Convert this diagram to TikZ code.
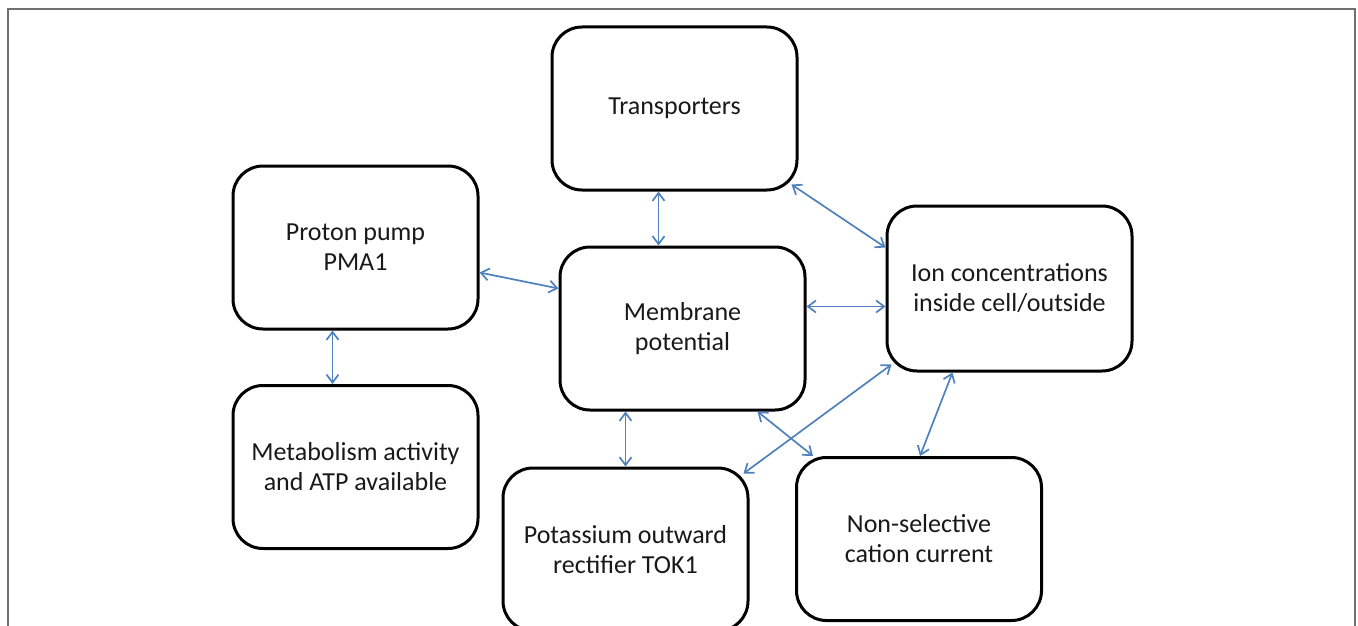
\documentclass[tikz,border=0pt]{standalone}
\usepackage{fontspec}
\setmainfont{Carlito}
\usetikzlibrary{arrows.meta,calc}
\definecolor{arrowblue}{RGB}{79,129,189}
\definecolor{framegray}{RGB}{112,112,112}
\tikzset{
  box/.style={draw=black, line width=3pt, rounded corners=30pt, minimum width=245pt,
    minimum height=163pt, inner sep=0pt, align=center, fill=white,
    font=\fontsize{26}{30}\selectfont, text=black!90},
  link/.style={draw=arrowblue, line width=1.7pt,
    {Straight Barb[length=8pt,width=12pt]}-{Straight Barb[length=8pt,width=12pt]}}
}
\begin{document}
\begin{tikzpicture}[x=1pt,y=-1pt]
\clip (0,0) rectangle (1358,626);
\fill[white] (0,0) rectangle (1358,626);
\draw[framegray, line width=2pt] (8,680) -- (8,9) -- (1355,9) -- (1355,680);

\node[box] (trans)  at (674.5,108.5) {Transporters};
\node[box] (proton) at (355.5,247.5) {Proton pump\\PMA1};
\node[box] (memb)   at (682.5,328.5) {Membrane\\potential};
\node[box, minimum height=165pt] (ion) at (1009.5,288.5) {Ion concentrations\\inside cell/outside};
\node[box] (metab)  at (355.5,467) {Metabolism activity\\and ATP available};
\node[box] (potas)  at (625.5,549.5) {Potassium outward\\rectifier TOK1};
\node[box] (nonsel) at (919,539) {Non-selective\\cation current};

\draw[link] ([xshift=-16pt]trans.south) -- ([xshift=-16pt]trans.south |- memb.north);
\draw[link] ([yshift=-25pt]proton.east) -- ([yshift=40pt]memb.west);
\draw[link] ([shift={(-7pt,7pt)}]trans.south east) -- ([yshift=41pt]ion.west);
\draw[link] ([yshift=22pt]memb.east) -- ([yshift=22pt]memb.east -| ion.west);
\draw[link] ([xshift=-57pt]memb.south) -- ([xshift=-57pt]memb.south |- potas.north);
\draw[link] ([xshift=75pt]memb.south) -- ([xshift=-106pt]nonsel.north);
\draw[link] ([shift={(-6pt,-7pt)}]potas.north east) -- ([shift={(6pt,8pt)}]ion.south west);
\draw[link] ([xshift=-57pt]ion.south) -- ([xshift=1pt]nonsel.north);
\draw[link] ([xshift=-23pt]proton.south) -- ([xshift=-23pt]proton.south |- metab.north);
\end{tikzpicture}
\end{document}
